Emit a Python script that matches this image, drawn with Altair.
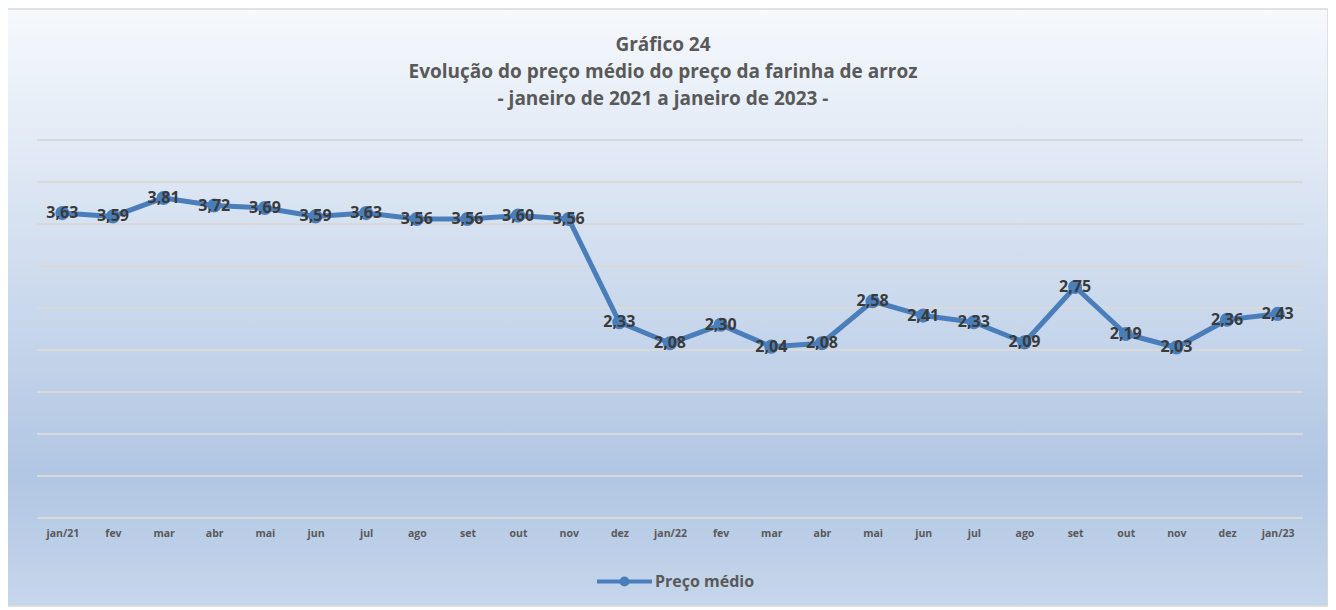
import altair as alt
import pandas as pd

tick_labels = ["jan/21", "fev", "mar", "abr", "mai", "jun", "jul", "ago", "set", "out", "nov", "dez",
               "jan/22", "fev", "mar", "abr", "mai", "jun", "jul", "ago", "set", "out", "nov", "dez", "jan/23"]
precos = [3.63, 3.59, 3.81, 3.72, 3.69, 3.59, 3.63, 3.56, 3.56, 3.60, 3.56, 2.33,
          2.08, 2.30, 2.04, 2.08, 2.58, 2.41, 2.33, 2.09, 2.75, 2.19, 2.03, 2.36, 2.43]
grid_values = [0, 0.5, 1, 1.5, 2, 2.5, 3, 3.5, 4, 4.5]
serie = "Preço médio"
titulo = ["Gráfico 24",
          "Evolução do preço médio do preço da farinha de arroz",
          "- janeiro de 2021 a janeiro de 2023 -"]

df = pd.DataFrame({
    "idx": list(range(len(precos))),
    "preco": precos,
    "rotulo": [f"{v:.2f}".replace(".", ",") for v in precos],
    "serie": [serie] * len(precos),
})
grid_df = pd.DataFrame({"preco": grid_values})

W, H = 1266, 378
BLUE = "#4a7ebb"
FONT = "Open Sans"

label_array = "[" + ",".join("'" + t + "'" for t in tick_labels) + "]"

x_enc = alt.X("idx:O", scale=alt.Scale(type="point", padding=0.5),
              axis=alt.Axis(title=None, labelExpr=label_array + "[datum.value]", labelAngle=0,
                            labelFont=FONT, labelFontWeight="bold", labelFontSize=10.5,
                            labelColor="#595959", ticks=False, domain=False, labelPadding=10,
                            zindex=1))
y_scale = alt.Scale(domain=[0, 4.5], nice=False, zero=True)
y_enc = alt.Y("preco:Q", scale=y_scale, axis=None)

one = pd.DataFrame({"a": [0]})

bg = alt.Chart(one).mark_rect(
    clip=False,
    color=alt.LinearGradient(gradient="linear", x1=0, x2=0, y1=0, y2=1,
                             stops=[alt.GradientStop(offset=0, color="#f6f9fd"),
                                    alt.GradientStop(offset=0.78, color="#b1c6e3"),
                                    alt.GradientStop(offset=1, color="#c6d6eb")]),
    stroke="#d9d9d9", strokeWidth=1.5
).encode(x=alt.value(-30), x2=alt.value(W + 25), y=alt.value(-131), y2=alt.value(H + 88))

grid = alt.Chart(grid_df).mark_rule(color="#d9d9d9", strokeWidth=2).encode(
    y=alt.Y("preco:Q", scale=y_scale, axis=None), x=alt.value(0), x2=alt.value(W))

title_layers = []
for line_txt, yy in zip(titulo, [-95, -68, -41]):
    title_layers.append(
        alt.Chart(one).mark_text(font=FONT, fontSize=19, fontWeight="bold", color="#595959",
                                 align="center", baseline="middle", clip=False).encode(
            x=alt.value(W / 2 - 7), y=alt.value(yy), text=alt.value(line_txt))
    )

base = alt.Chart(df)

line = base.mark_line(strokeWidth=5, strokeCap="round", strokeJoin="round").encode(
    x=x_enc, y=y_enc,
    color=alt.Color("serie:N", scale=alt.Scale(range=[BLUE]),
                    legend=alt.Legend(title=None, orient="none", legendX=558, legendY=412,
                                      padding=0,
                                      symbolType="M-1,0H1M0.11,0A0.11,0.11 0 1 1 -0.11,0A0.11,0.11 0 1 1 0.11,0Z",
                                      symbolSize=3025, symbolStrokeWidth=4,
                                      symbolFillColor=BLUE, symbolStrokeColor=BLUE,
                                      labelFont=FONT, labelFontWeight="bold", labelFontSize=16,
                                      labelColor="#595959", labelOffset=1))
)

pts = base.mark_point(filled=True, size=200, color=BLUE, opacity=1).encode(x=x_enc, y=y_enc)

labels = base.mark_text(font=FONT, fontWeight="bold", fontSize=16, color="#3a3a3a",
                        baseline="middle", align="center").encode(
    x=x_enc, y=y_enc, text="rotulo:N")

chart = alt.layer(bg, grid, *title_layers, line, pts, labels).properties(
    width=W, height=H,
    padding={"left": 29, "top": 132, "right": 25, "bottom": 90},
    autosize=alt.AutoSizeParams(type="none"),
).resolve_scale(y="shared").configure_view(stroke=None).configure(background="white")

chart.save("out.html", embed_options={"renderer": "svg", "actions": False})
